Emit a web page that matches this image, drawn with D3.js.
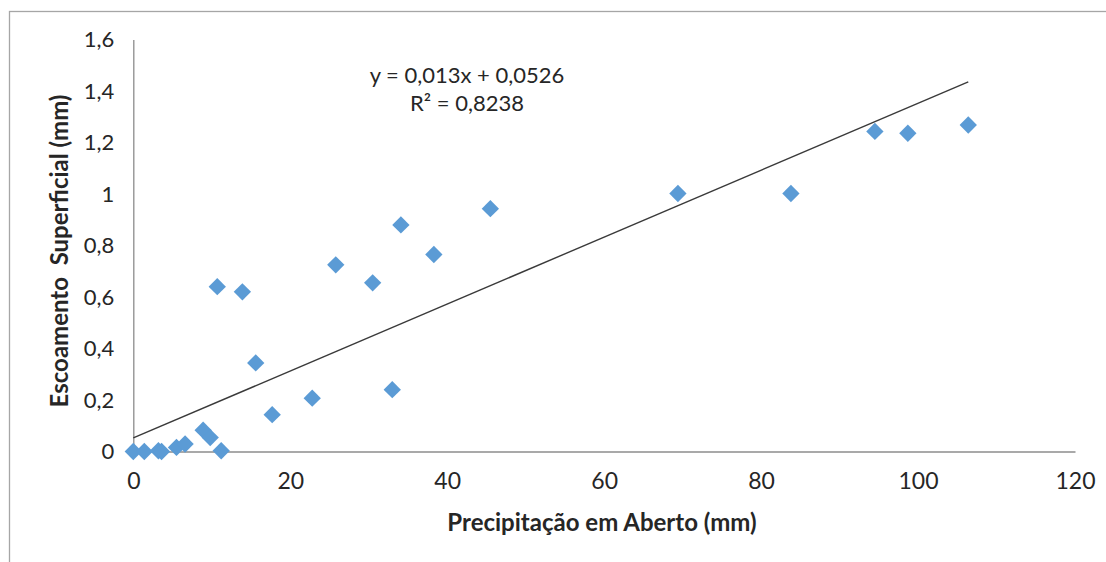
<!DOCTYPE html>
<html>
<head>
<meta charset="utf-8">
<script src="https://cdn.jsdelivr.net/npm/d3@7"></script>
<style>
  body { margin: 0; background: #fff; }
  svg { display: block; }
</style>
</head>
<body>
<div id="chart"></div>
<script>
let font = "Lato"

// Precipitação em Aberto (mm)
let precipitacao = [0, 1.4, 3.2, 3.6, 5.5, 6.6, 8.9, 9.8, 11.2, 10.7, 13.9, 15.6, 17.7,
    22.8, 25.8, 30.5, 33.0, 34.1, 38.3, 45.5, 69.4, 83.8, 94.5, 98.7, 106.4];
// Escoamento Superficial (mm)
let escoamento = [0, 0, 0.003, 0, 0.016, 0.029, 0.083, 0.054, 0.003, 0.64, 0.62, 0.344, 0.143,
    0.207, 0.725, 0.655, 0.24, 0.88, 0.765, 0.943, 1.002, 1.002, 1.243, 1.236, 1.268];

let xTicks = [0, 20, 40, 60, 80, 100, 120];
let yTicks = [0, 0.2, 0.4, 0.6, 0.8, 1, 1.2, 1.4, 1.6];

// linha de tendencia
let inclinacao = 0.013;
let intercepto = 0.0526;
let equacao = "y = 0,013x + 0,0526";
let r2 = "R² = 0,8238";

function desenhe() {
    let width = 1106, height = 562;
    let margin = { top: 39.5, right: 31, bottom: 110.5, left: 133.3 };
    let w = width - margin.left - margin.right,
        h = height - margin.top - margin.bottom;

    let svg = d3.select("#chart").append("svg")
        .attr("width", width)
        .attr("height", height);

    // rahmen (nur oben und links sichtbar)
    svg.append("rect")
        .attr("x", 9.5).attr("y", 11.5)
        .attr("width", 1200).attr("height", 700)
        .attr("fill", "none")
        .attr("stroke", "#a6a6a6")
        .attr("stroke-width", 1.3);

    let g = svg.append("g")
        .attr("transform", "translate(" + margin.left + "," + margin.top + ")");

    let x = d3.scaleLinear().domain([0, 120]).range([0, w]);
    let y = d3.scaleLinear().domain([0, 1.6]).range([h, 0]);

    let fmt = d => String(d).replace(".", ",");

    // y achse
    let yAxis = g.append("g")
        .call(d3.axisLeft(y).tickValues(yTicks).tickSize(0).tickPadding(19).tickFormat(fmt));
    yAxis.select(".domain").attr("stroke", "#8c8c8c").attr("stroke-width", 1.3);
    yAxis.selectAll("text")
        .attr("font-family", font)
        .attr("font-size", "22px")
        .attr("fill", "#262626");

    // x achse
    let xAxis = g.append("g")
        .attr("transform", "translate(0," + h + ")")
        .call(d3.axisBottom(x).tickValues(xTicks).tickSize(0).tickPadding(21).tickFormat(fmt));
    xAxis.select(".domain").attr("stroke", "#8c8c8c").attr("stroke-width", 1.3);
    xAxis.selectAll("text")
        .attr("font-family", font)
        .attr("font-size", "23px")
        .attr("fill", "#262626");

    // punkte
    let daten = precipitacao.map((p, i) => ({ x: p, y: escoamento[i] }));
    g.selectAll(".punkt").data(daten).enter().append("path")
        .attr("class", "punkt")
        .attr("d", d3.symbol().type(d3.symbolSquare).size(150))
        .attr("transform", d => "translate(" + x(d.x) + "," + y(d.y) + ") rotate(45)")
        .attr("fill", "#5b9bd5");

    // trendlinie
    let xMax = d3.max(precipitacao);
    g.append("line")
        .attr("x1", x(0)).attr("y1", y(intercepto))
        .attr("x2", x(xMax)).attr("y2", y(inclinacao * xMax + intercepto))
        .attr("stroke", "#3a3a3a")
        .attr("stroke-width", 1.4);

    // gleichung
    svg.append("text")
        .attr("x", 467).attr("y", 83)
        .attr("text-anchor", "middle")
        .attr("font-family", font).attr("font-size", "22px").attr("fill", "#262626")
        .text(equacao);
    svg.append("text")
        .attr("x", 467).attr("y", 111)
        .attr("text-anchor", "middle")
        .attr("font-family", font).attr("font-size", "22px").attr("fill", "#262626")
        .text(r2);

    // achsentitel
    svg.append("text")
        .attr("x", 602).attr("y", 531)
        .attr("text-anchor", "middle")
        .attr("font-family", font).attr("font-size", "24px").attr("font-weight", "bold")
        .attr("fill", "#262626")
        .text("Precipitação em Aberto (mm)");
    svg.append("text")
        .attr("transform", "translate(68,251) rotate(-90)")
        .attr("text-anchor", "middle")
        .attr("font-family", font).attr("font-size", "24px").attr("font-weight", "bold")
        .attr("fill", "#262626")
        .attr("xml:space", "preserve")
        .style("white-space", "pre")
        .text("Escoamento  Superficial (mm)");
}

desenhe();
</script>
</body>
</html>
